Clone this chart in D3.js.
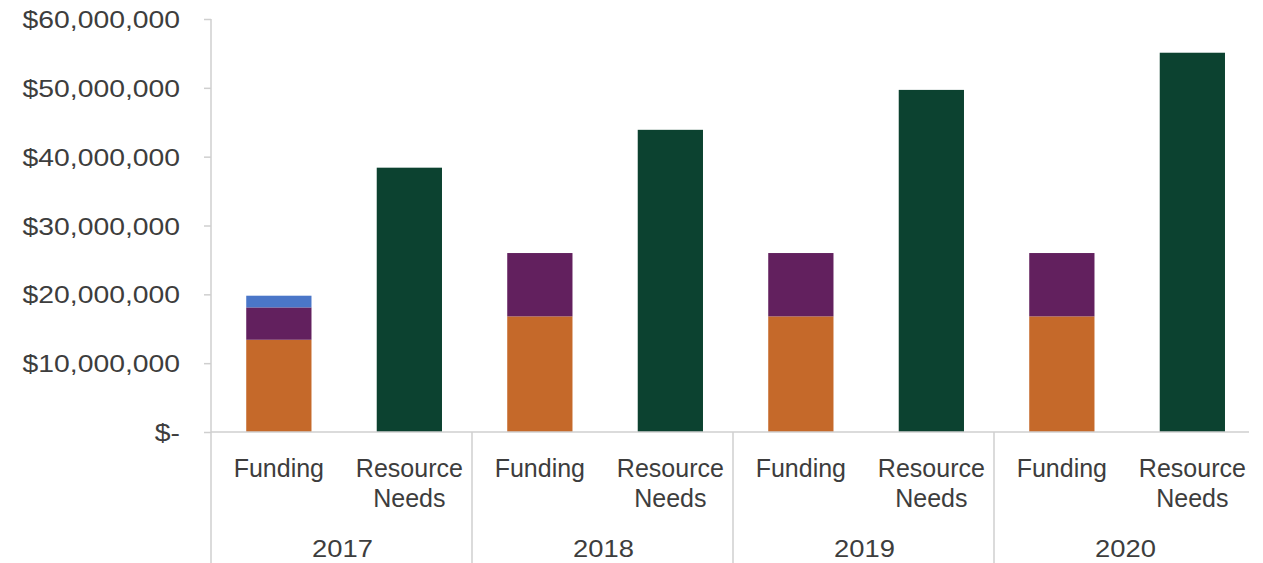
<!DOCTYPE html>
<html>
<head>
<meta charset="utf-8">
<script src="https://cdn.jsdelivr.net/npm/d3@7"></script>
<style>
  html, body { margin: 0; padding: 0; background: #fff; }
  svg { display: block; }
  text { font-family: "Liberation Sans", Arial, sans-serif; fill: #3d3d3d; }
</style>
</head>
<body>
<svg id="chart" width="1263" height="563"></svg>
<script>
// Years and the two bars shown per year
const years = ["2017", "2018", "2019", "2020"];
const barTypes = ["Funding", "Resource Needs"];

// Funding is stacked from three sources (dollars)
const fundingOrange = [13400000, 16800000, 16800000, 16800000];
const fundingPurple = [4700000, 9200000, 9200000, 9200000];
const fundingBlue   = [1700000, 0, 0, 0];

// Total resource needs per year (dollars)
const resourceNeeds = [38400000, 43900000, 49700000, 55100000];

// Y axis tick values
const yTicks = [0, 10000000, 20000000, 30000000, 40000000, 50000000, 60000000];

const colors = {
  orange: "#C5692A",
  purple: "#62205E",
  blue:   "#4A76C8",
  green:  "#0C4230"
};

const svg = d3.select("#chart");
const axisColor = "#cfcfcf";
const numStretch = 1.18;   // numerals are set in a wide face
const yearStretch = 1.14;

const plotLeft = 211, plotRight = 1255, plotTop = 19, plotBottom = 432, svgH = 563;

const y = d3.scaleLinear().domain([0, 60000000]).range([plotBottom, plotTop]);
const x0 = d3.scaleBand().domain(years).range([plotLeft, plotRight]).padding(0);
const x1 = d3.scaleBand().domain(barTypes).range([0, x0.bandwidth()])
  .paddingInner(0.5).paddingOuter(0.25).align(0.54);

// Stacked funding bars
const stackRows = years.map((yr, i) => ({
  year: yr, orange: fundingOrange[i], purple: fundingPurple[i], blue: fundingBlue[i]
}));
const stack = d3.stack().keys(["orange", "purple", "blue"])(stackRows);

const bars = svg.append("g");
stack.forEach(layer => {
  bars.selectAll(null)
    .data(layer.filter(d => d[1] > d[0]))
    .join("rect")
    .attr("x", d => x0(d.data.year) + x1("Funding"))
    .attr("width", x1.bandwidth())
    .attr("y", d => y(d[1]))
    .attr("height", d => y(d[0]) - y(d[1]))
    .attr("fill", colors[layer.key]);
});

// Resource needs bars
bars.selectAll(null)
  .data(years.map((yr, i) => ({ year: yr, value: resourceNeeds[i] })))
  .join("rect")
  .attr("x", d => x0(d.year) + x1("Resource Needs"))
  .attr("width", x1.bandwidth())
  .attr("y", d => y(d.value))
  .attr("height", d => y(0) - y(d.value))
  .attr("fill", colors.green);

// Y axis
const fmt = d3.format(",");
const tickLen = 7, tickPad = 24;
const yAxis = d3.axisLeft(y)
  .tickValues(yTicks)
  .tickSize(tickLen)
  .tickPadding(tickPad)
  .tickFormat(v => v === 0 ? "$-" : "$" + fmt(v));

const yg = svg.append("g").attr("transform", `translate(${plotLeft},0)`).call(yAxis);
yg.select(".domain").remove();
yg.selectAll(".tick line").attr("stroke", axisColor).attr("stroke-width", 1.5);
yg.selectAll(".tick text")
  .style("font-family", "'Liberation Sans', Arial, sans-serif")
  .style("font-size", "24px")
  .attr("fill", "#3d3d3d")
  .attr("dy", "0.36em")
  .attr("x", -(tickLen + tickPad) / numStretch)
  .attr("transform", `scale(${numStretch},1)`);

// Axis lines: vertical y axis runs to the bottom edge, horizontal baseline
svg.append("line")
  .attr("x1", plotLeft).attr("x2", plotLeft)
  .attr("y1", plotTop).attr("y2", svgH)
  .attr("stroke", axisColor).attr("stroke-width", 1.5);
svg.append("line")
  .attr("x1", plotLeft).attr("x2", 1249)
  .attr("y1", y(0)).attr("y2", y(0))
  .attr("stroke", axisColor).attr("stroke-width", 1.5);

// Year group separators
svg.selectAll(null)
  .data(years.slice(1))
  .join("line")
  .attr("x1", d => x0(d)).attr("x2", d => x0(d))
  .attr("y1", y(0)).attr("y2", svgH)
  .attr("stroke", axisColor).attr("stroke-width", 1.5);

// Bar category labels
const catG = svg.append("g");
years.forEach(yr => {
  barTypes.forEach(bt => {
    const cx = x0(yr) + x1(bt) + x1.bandwidth() / 2;
    const words = bt === "Resource Needs" ? ["Resource", "Needs"] : [bt];
    words.forEach((w, k) => {
      catG.append("text")
        .attr("x", cx)
        .attr("y", 477 + k * 30)
        .attr("text-anchor", "middle")
        .style("font-size", "25px")
        .text(w);
    });
  });
});

// Year labels
svg.selectAll(".year")
  .data(years)
  .join("text")
  .attr("class", "year")
  .attr("x", d => (x0(d) + x0.bandwidth() / 2 + 1) / yearStretch)
  .attr("y", 557)
  .attr("transform", `scale(${yearStretch},1)`)
  .attr("text-anchor", "middle")
  .style("font-size", "24px")
  .text(d => d);
</script>
</body>
</html>
